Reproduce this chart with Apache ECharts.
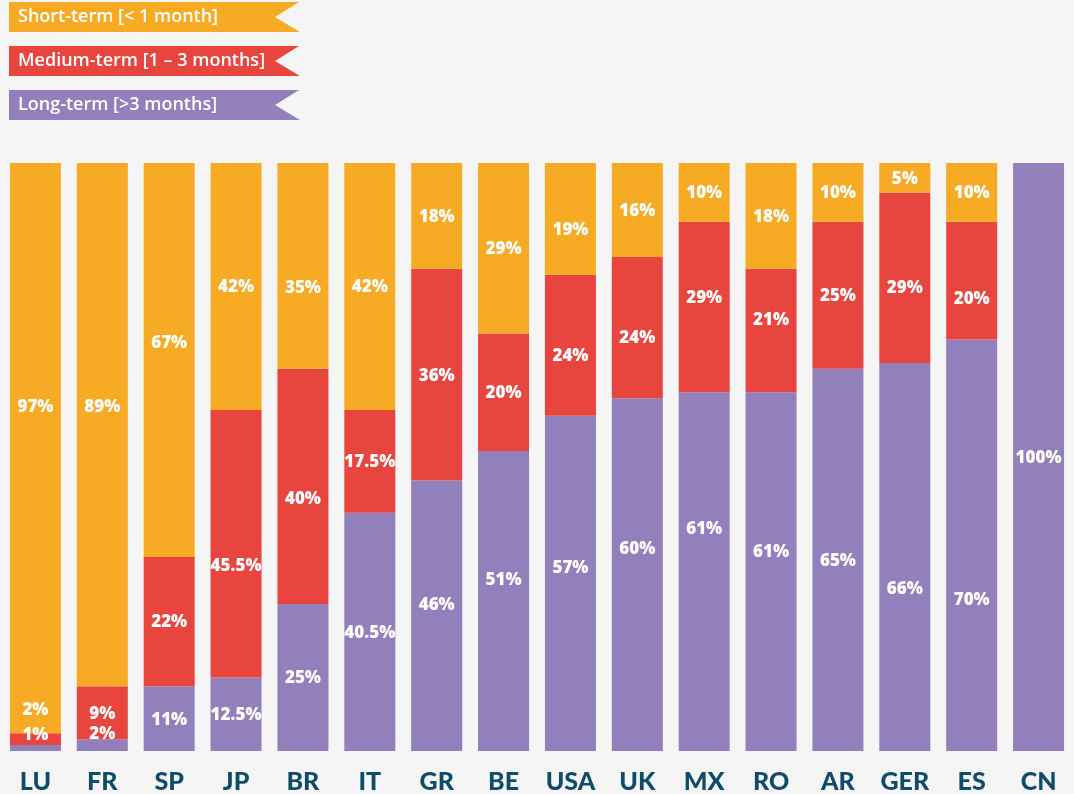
<!DOCTYPE html>
<html>
<head>
<meta charset="utf-8">
<script src="https://cdn.jsdelivr.net/npm/echarts@6/dist/echarts.min.js"></script>
<style>
  html, body { margin: 0; padding: 0; background: #f5f5f5; }
  #chart { width: 1074px; height: 794px; }
</style>
</head>
<body>
<div id="chart"></div>
<script>
// categories and shares (%)
const countries = ['LU', 'FR', 'SP', 'JP', 'BR', 'IT', 'GR', 'BE', 'USA', 'UK', 'MX', 'RO', 'AR', 'GER', 'ES', 'CN'];
const longTerm   = [1, 2, 11, 12.5, 25, 40.5, 46, 51, 57, 60, 61, 61, 65, 66, 70, 100];
const mediumTerm = [2, 9, 22, 45.5, 40, 17.5, 36, 20, 24, 24, 29, 21, 25, 29, 20, 0];
const shortTerm  = [97, 89, 67, 42, 35, 42, 18, 29, 19, 16, 10, 18, 10, 5, 10, 0];

const legendNames = ['Short-term [< 1 month]', 'Medium-term [1 – 3 months]', 'Long-term [>3 months]'];

const ORANGE = '#f7ab25';
const RED = '#e8453f';
const PURPLE = '#9180bb';

// labels in the original are hand placed, not exactly centered
const labelNudge = {
  short:  { LU: -42, FR: -19, SP: -18, BR: 21, USA: 10 },
  medium: { LU: -30, JP: 21, BR: 12, USA: 10, UK: 10, MX: -10, RO: -11, GER: 9, ES: 18 },
  long:   { LU: -14, FR: -12, GR: -12, BE: -22, USA: -16, UK: -26, MX: -44, RO: -21, GER: 31, ES: 54 }
};

function toData(values, key) {
  return values.map((v, i) => {
    const dy = (labelNudge[key][countries[i]] || 0) + 1;
    return { value: v, label: { offset: [0, dy] } };
  });
}

const chart = echarts.init(document.getElementById('chart'));

const barLabel = {
  show: true,
  position: 'inside',
  color: '#fff',
  fontFamily: 'Open Sans',
  fontWeight: 800,
  fontSize: 17,
  formatter: p => (p.value > 0 ? p.value + '%' : '')
};

function ribbon(y, color, text) {
  return {
    type: 'group',
    children: [{
      type: 'polygon',
      shape: { points: [[9, y], [299, y], [275, y + 15], [300, y + 30], [9, y + 30]] },
      style: { fill: color }
    }, {
      type: 'text',
      x: 18, y: y + 15,
      style: {
        text: text, fill: '#fff', fontFamily: 'Open Sans', fontSize: 18, fontWeight: 600,
        verticalAlign: 'middle'
      }
    }]
  };
}

const option = {
  backgroundColor: '#f5f5f5',
  animation: false,
  grid: { left: 2, right: 2, top: 163, bottom: 43 },
  xAxis: {
    type: 'category',
    data: countries,
    axisLine: { show: false },
    axisTick: { show: false },
    axisLabel: {
      color: '#0f4c68',
      fontFamily: 'Lato',
      fontWeight: 900,
      fontSize: 25,
      margin: 18
    }
  },
  yAxis: { type: 'value', min: 0, max: 100, show: false },
  series: [
    { name: legendNames[2], type: 'bar', stack: 'all', barWidth: 51, data: toData(longTerm, 'long'),
      itemStyle: { color: PURPLE }, label: barLabel },
    { name: legendNames[1], type: 'bar', stack: 'all', barWidth: 51, data: toData(mediumTerm, 'medium'),
      itemStyle: { color: RED }, label: barLabel },
    { name: legendNames[0], type: 'bar', stack: 'all', barWidth: 51, data: toData(shortTerm, 'short'),
      itemStyle: { color: ORANGE }, label: barLabel }
  ],
  graphic: [
    ribbon(2, ORANGE, legendNames[0]),
    ribbon(46, RED, legendNames[1]),
    ribbon(90, PURPLE, legendNames[2])
  ]
};

chart.setOption(option);
</script>
</body>
</html>
